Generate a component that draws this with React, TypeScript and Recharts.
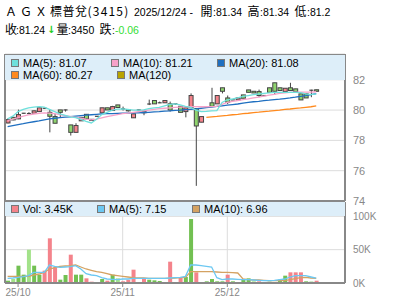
import React from "react";
import {
  ComposedChart,
  Bar,
  Line,
  XAxis,
  YAxis,
  CartesianGrid,
  Cell,
} from "recharts";

// trading days, 2025/09/29 .. 2025/12/24
const dates = [
  "09/29", "09/30",
  "10/01", "10/02", "10/03", "10/07", "10/08", "10/09", "10/13", "10/14", "10/15", "10/16",
  "10/17", "10/20", "10/21", "10/22", "10/23", "10/27", "10/28", "10/29", "10/30", "10/31",
  "11/03", "11/04", "11/05", "11/06", "11/07", "11/10", "11/11", "11/12", "11/13", "11/14",
  "11/17", "11/18", "11/19", "11/20", "11/21", "11/24", "11/25", "11/26", "11/27", "11/28",
  "12/01", "12/02", "12/03", "12/04", "12/05", "12/08", "12/09", "12/10", "12/11", "12/12",
  "12/15", "12/16", "12/17", "12/18", "12/19", "12/22", "12/23", "12/24",
];
const tickDates = ["10/01", "11/03", "12/01"];
const tickLabels = ["25/10", "25/11", "25/12"];
const priceTicks = [74, 76, 78, 80, 82];
const volTicks = [0, 50, 100];

const opens = [
  79.15, 79.52, 79.42, 79.79, 79.77, 79.79, 79.9, 80.12, 79.85, 79.57,
  80.01, 80.01, 79.02, 78.53, 79.29, 79.72, 79.39, 79.59, 79.82, 80.15,
  79.97, 80.34, 80.08, 80.03, 79.49, 80.01, 79.92, 80.4, 80.63, 80.48,
  80.48, 80.41, 80.41, 80.25, 79.9, 80.15, 80.1, 79.2, 80.19, 80.48,
  80.41, 81.47, 80.8, 80.67, 80.67, 81.0, 81.33, 81.24, 81.22, 80.96,
  81.47, 81.8, 81.47, 81.22, 81.47, 81.4, 81.07, 81.07, 81.31, 81.34,
];
const highs = [
  79.46, 79.55, 80.03, 79.81, 79.86, 79.97, 80.17, 80.14, 80.03, 79.75,
  80.01, 80.03, 79.02, 79.13, 79.52, 79.72, 79.4, 79.61, 80.15, 80.15,
  80.28, 80.34, 80.23, 80.03, 79.75, 80.03, 79.92, 80.69, 80.63, 80.56,
  80.63, 80.56, 80.41, 80.25, 80.15, 81.1, 80.12, 79.57, 80.21, 81.47,
  80.96, 81.47, 80.96, 80.69, 80.8, 81.0, 81.33, 81.24, 81.35, 80.98,
  81.47, 81.8, 81.47, 81.44, 81.8, 81.4, 81.07, 81.07, 81.34, 81.34,
];
const lows = [
  79.12, 79.33, 79.4, 79.77, 79.75, 79.79, 79.9, 80.1, 78.53, 79.13,
  79.52, 79.9, 78.32, 78.53, 79.29, 79.42, 79.31, 79.57, 79.82, 80.01,
  79.97, 80.17, 79.97, 79.9, 79.49, 79.99, 79.66, 80.33, 80.41, 80.46,
  80.48, 79.9, 80.34, 79.85, 79.52, 80.15, 75.0, 79.2, 80.17, 80.2,
  80.41, 81.1, 80.4, 80.65, 80.67, 80.78, 81.17, 81.13, 80.85, 80.94,
  81.17, 81.0, 81.29, 81.22, 81.29, 81.22, 80.67, 80.8, 80.85, 81.2,
];
const closes = [
  79.37, 79.35, 79.7, 79.79, 79.77, 79.95, 80.15, 80.12, 79.59, 79.13,
  79.85, 80.01, 78.53, 78.98, 79.52, 79.42, 79.31, 79.59, 80.15, 80.01,
  80.23, 80.17, 80.08, 79.95, 79.75, 80.01, 79.82, 80.4, 80.41, 80.48,
  80.63, 80.0, 80.34, 79.85, 80.15, 80.96, 78.95, 79.57, 80.19, 80.25,
  80.96, 81.24, 80.52, 80.67, 80.8, 80.78, 81.17, 81.13, 80.96, 80.96,
  81.17, 81.24, 81.29, 81.44, 81.29, 81.22, 80.67, 80.8, 81.31, 81.24,
];

const ma5 = [
  79.42, 79.6, 79.9, 80.05, 80.15, 80.2, 80.23, 80.2, 80.05, 79.9,
  79.75, 79.65, 79.55, 79.5, 79.38, 79.25, 79.15, 79.4, 79.7, 79.85,
  80.0, 80.06, 80.08, 80.05, 80.0, 80.0, 80.01, 80.1, 80.15, 80.18,
  80.28, 80.38, 80.41, 80.35, 80.25, 80.18, 80.0, 79.9, 79.92, 79.95,
  79.97, 80.5, 80.68, 80.73, 80.8, 80.9, 80.96, 81.02, 81.06, 81.1,
  81.14, 81.17, 81.17, 81.17, 81.17, 81.17, 81.15, 81.07, 81.02, 81.07,
];
const ma10 = [
  79.31, 79.4, 79.5, 79.6, 79.68, 79.74, 79.78, 79.82, 79.8, 79.76,
  79.7, 79.64, 79.58, 79.52, 79.46, 79.4, 79.35, 79.4, 79.48, 79.56,
  79.64, 79.7, 79.76, 79.8, 79.85, 79.9, 79.95, 80.0, 80.05, 80.09,
  80.12, 80.15, 80.18, 80.2, 80.22, 80.23, 80.23, 80.22, 80.22, 80.23,
  80.24, 80.38, 80.51, 80.57, 80.63, 80.69, 80.74, 80.8, 80.86, 80.92,
  80.98, 81.04, 81.1, 81.14, 81.17, 81.18, 81.18, 81.18, 81.19, 81.21,
];
const ma20 = [
  78.91, 78.98, 79.04, 79.1, 79.17, 79.23, 79.29, 79.36, 79.42, 79.46,
  79.5, 79.53, 79.56, 79.6, 79.63, 79.66, 79.69, 79.72, 79.75, 79.76,
  79.77, 79.78, 79.79, 79.8, 79.81, 79.82, 79.84, 79.85, 79.88, 79.9,
  79.93, 79.95, 79.98, 80.0, 80.03, 80.05, 80.08, 80.12, 80.16, 80.2,
  80.24, 80.28, 80.32, 80.36, 80.4, 80.46, 80.51, 80.55, 80.58, 80.62,
  80.65, 80.69, 80.72, 80.76, 80.8, 80.85, 80.91, 80.96, 81.02, 81.08,
];
const ma60 = [
  null, null, null, null, null, null, null, null, null, null,
  null, null, null, null, null, null, null, null, null, null,
  null, null, null, null, null, null, null, null, null, null,
  null, null, null, null, null, null, null, null, 79.52, 79.55,
  79.58, 79.62, 79.65, 79.69, 79.72, 79.76, 79.79, 79.83, 79.86, 79.9,
  79.93, 79.97, 80.0, 80.04, 80.07, 80.11, 80.14, 80.18, 80.22, 80.27,
];

// volume in thousands; u = up, d = down, n = unchanged
const volumes = [
  3.5, 6, 26, 12.5, 50, 26, 12.5, 18.5, 67, 23.5,
  5, 12, 42.5, 12.5, 12.5, 7, 2, 1, 6, 3.5,
  12.5, 7, 2.5, 5, 20, 1.5, 7.5, 5, 4, 3,
  1.5, 32, 1.5, 7.5, 9, 96, 16, 1.5, 2.5, 6,
  2.5, 2.5, 12.5, 2.5, 1.5, 6, 7, 2.5, 2.5, 1,
  2, 1.5, 5, 11, 16, 16, 16, 2.5, 2, 3.45,
];
const volDir = [
  "d", "n", "d", "d", "n", "d", "d", "u", "u", "u",
  "d", "d", "u", "d", "d", "u", "u", "d", "d", "u",
  "d", "n", "u", "u", "u", "d", "u", "d", "d", "d",
  "d", "u", "d", "u", "d", "d", "u", "d", "d", "d",
  "d", "d", "u", "d", "d", "d", "d", "n", "u", "d",
  "d", "d", "d", "d", "u", "u", "u", "d", "d", "u",
];
const volMa5 = [
  7, 7.5, 8.4, 9.5, 11, 16, 16, 16, 27, 25,
  23.5, 24, 24.5, 26, 21, 14, 12, 11, 8, 6,
  5.5, 5, 6, 6, 7, 7, 7, 7, 7, 7,
  7, 7.5, 8, 8.5, 10, 27, 27, 26, 25, 24,
  8, 5, 6, 6, 5.5, 5, 5, 4.5, 4, 3.5,
  3.5, 4, 5, 6, 9, 11, 11, 11, 9, 7.15,
];
const volMa10 = [
  10, 10, 10, 10, 10, 12, 13.5, 16, 21, 23,
  25, 25.5, 26, 27, 24, 21, 19, 17, 16, 14,
  12, 11, 10, 9, 8, 7.5, 7.5, 7, 7, 7,
  7, 7, 7.5, 8, 8.5, 17, 17, 17, 17, 17,
  16.5, 16, 16, 15.5, 15, 6, 5, 4.5, 4.5, 4,
  3.5, 3.5, 3.5, 3.5, 5, 6.5, 8, 8.4, 7.5, 6.96,
];

const RED = "#f4838b";
const GREEN = "#72c052";
const LIGHT_GREEN = "#a3e28a";
const C_MA5 = "#6ee0dc";
const C_MA10 = "#f7a1c8";
const C_MA20 = "#1f6fc0";
const C_MA60 = "#ff8a1e";
const C_MA120 = "#b8a400";
const C_VMA5 = "#6cc8f2";
const C_VMA10 = "#d4a262";
const AXIS = "#888";
const GRID = "#dcdcdc";
const FONT = "'Liberation Sans', Arial, sans-serif";
const CJK = "'Noto Sans CJK TC', sans-serif";

const data: any[] = dates.map((d, i) => ({
  d,
  open: opens[i],
  high: highs[i],
  low: lows[i],
  close: closes[i],
  range: [lows[i], highs[i]],
  ma5: ma5[i],
  ma10: ma10[i],
  ma20: ma20[i],
  ma60: ma60[i],
  vol: volumes[i],
  dir: volDir[i],
  vma5: volMa5[i],
  vma10: volMa10[i],
}));
// empty slots on the right side of the chart
for (let k = 1; k <= 5; k++) data.push({ d: `pad${k}` });

const Candle = (props: any) => {
  const { x, y, width, height, payload } = props;
  if (!payload || payload.open == null) return null;
  const { open, close, high, low } = payload;
  const ratio = high > low ? height / (high - low) : 0;
  const yOf = (v: number) => y + (high - v) * ratio;
  const cx = x + width / 2;
  const top = yOf(Math.max(open, close));
  const bot = yOf(Math.min(open, close));
  const fill = close > open ? RED : close < open ? "#8fd46e" : "#555";
  return (
    <g>
      <line x1={cx} x2={cx} y1={y} y2={y + height} stroke="#444" strokeWidth={1} />
      {bot - top < 1.2 ? (
        <line x1={x} x2={x + width} y1={top} y2={top} stroke="#444" strokeWidth={1.2} />
      ) : (
        <rect x={x} y={top} width={width} height={bot - top} fill={fill} stroke="#444" strokeWidth={1} />
      )}
    </g>
  );
};

const LegendItem = ({ color, label, left, top }: any) => (
  <div
    style={{
      position: "absolute",
      left,
      top,
      display: "flex",
      alignItems: "center",
      fontSize: 11,
      fontFamily: FONT,
      lineHeight: "12px",
      color: "#000",
      whiteSpace: "nowrap",
    }}
  >
    <span
      style={{
        display: "inline-block",
        width: 6,
        height: 6,
        background: color,
        border: "1px solid #777",
        marginRight: 4,
      }}
    />
    {label}
  </div>
);

// header piece placed at x; top is the top of a 12px CJK line box
const H = ({ x, top, cjk, color, bold, children }: any) => (
  <div
    style={{
      position: "absolute",
      left: x,
      top: cjk ? top : top + 4.4,
      fontFamily: cjk ? CJK : FONT,
      fontSize: cjk ? 12 : 10.5,
      fontWeight: bold ? "bold" : "normal",
      color: color ?? "#000",
      whiteSpace: "pre",
    }}
  >
    {children}
  </div>
);

const last = (a: any[]) => a[a.length - 1];

export default function App() {
  const tickFmt = (v: string) => tickLabels[tickDates.indexOf(v)] ?? "";
  const r1 = 2;
  const r2 = 19.5;
  return (
    <div style={{ position: "absolute", left: 0, top: 0, width: 400, height: 301, background: "#fff" }}>
      {/* volume panel */}
      <div style={{ position: "absolute", left: 0, top: 0 }}>
        <ComposedChart width={400} height={301} data={data} margin={{ top: 202, right: 0, bottom: 0, left: 5 }}>
          <CartesianGrid stroke={GRID} strokeWidth={1} />
          <XAxis
            dataKey="d"
            type="category"
            ticks={tickDates}
            tickFormatter={tickFmt}
            height={18}
            axisLine={{ stroke: AXIS, strokeWidth: 2 }}
            tickLine={{ stroke: AXIS }}
            tickSize={4}
            tick={{ fill: AXIS, fontSize: 10, fontFamily: FONT }}
          />
          <YAxis
            orientation="right"
            width={55}
            domain={[0, 121.5]}
            ticks={volTicks}
            allowDataOverflow
            tickFormatter={(v: number) => `${v}K`}
            axisLine={{ stroke: AXIS, strokeWidth: 2 }}
            tickLine={false}
            tick={{ fill: AXIS, fontSize: 10, fontFamily: FONT }}
          />
          <Bar dataKey="vol" barSize={4} isAnimationActive={false}>
            {data.map((r, i) => (
              <Cell key={i} fill={r.dir === "u" ? RED : r.dir === "n" ? LIGHT_GREEN : GREEN} />
            ))}
          </Bar>
          <Line dataKey="vma10" stroke={C_VMA10} strokeWidth={1.3} dot={false} isAnimationActive={false} />
          <Line dataKey="vma5" stroke={C_VMA5} strokeWidth={1.3} dot={false} isAnimationActive={false} />
        </ComposedChart>
      </div>

      {/* price panel */}
      <div style={{ position: "absolute", left: 0, top: 0 }}>
        <ComposedChart width={400} height={301} data={data} margin={{ top: 54, right: 0, bottom: 0, left: 5 }}>
          <CartesianGrid stroke={GRID} strokeWidth={1} />
          <XAxis
            dataKey="d"
            type="category"
            ticks={tickDates}
            height={100}
            tick={false}
            tickLine={false}
            axisLine={{ stroke: AXIS, strokeWidth: 2 }}
          />
          <YAxis
            orientation="right"
            width={55}
            domain={[74, 83.7]}
            ticks={priceTicks}
            allowDataOverflow
            axisLine={{ stroke: AXIS, strokeWidth: 2 }}
            tickLine={false}
            tick={{ fill: AXIS, fontSize: 11, fontFamily: FONT }}
          />
          <Line dataKey="ma60" stroke={C_MA60} strokeWidth={1.3} dot={false} isAnimationActive={false} />
          <Line dataKey="ma20" stroke={C_MA20} strokeWidth={1.3} dot={false} isAnimationActive={false} />
          <Line dataKey="ma10" stroke={C_MA10} strokeWidth={1.3} dot={false} isAnimationActive={false} />
          <Line dataKey="ma5" stroke={C_MA5} strokeWidth={1.3} dot={false} isAnimationActive={false} />
          <Bar dataKey="range" barSize={4} shape={<Candle />} isAnimationActive={false} />
        </ComposedChart>
      </div>

      {/* left frame */}
      <div style={{ position: "absolute", left: 4, top: 54, width: 2, height: 229, background: AXIS }} />

      {/* price legend */}
      <div
        style={{
          position: "absolute",
          left: 5,
          top: 54,
          width: 340,
          height: 26,
          background: "#ddeef9",
          borderTop: `1px solid ${AXIS}`,
          boxSizing: "border-box",
        }}
      />
      <LegendItem color={C_MA5} label={`MA(5): ${last(ma5).toFixed(2)}`} left={11} top={57} />
      <LegendItem color={C_MA10} label={`MA(10): ${last(ma10).toFixed(2)}`} left={111} top={57} />
      <LegendItem color={C_MA20} label={`MA(20): ${last(ma20).toFixed(2)}`} left={217} top={57} />
      <LegendItem color={C_MA60} label={`MA(60): ${last(ma60).toFixed(2)}`} left={11} top={69} />
      <LegendItem color={C_MA120} label="MA(120)" left={117} top={69} />

      {/* volume legend */}
      <div
        style={{
          position: "absolute",
          left: 5,
          top: 202,
          width: 340,
          height: 14,
          background: "#ddeef9",
        }}
      />
      <LegendItem color={RED} label={`Vol: ${last(volumes).toFixed(2)}K`} left={11} top={203} />
      <LegendItem color={C_VMA5} label={`MA(5): ${last(volMa5).toFixed(2)}`} left={97} top={203} />
      <LegendItem color={C_VMA10} label={`MA(10): ${last(volMa10).toFixed(2)}`} left={192} top={203} />

      {/* header, line 1 */}
      <div style={{ position: "absolute", left: 5, top: r1, display: "flex", whiteSpace: "pre" }}>
        <span style={{ fontFamily: CJK, fontSize: 12, letterSpacing: 3 }}>{"ＡＧＸ"}</span>
        <span style={{ fontFamily: CJK, fontSize: 12, letterSpacing: 0.5 }}>{"標普兌"}</span>
        <span style={{ fontFamily: CJK, fontSize: 12, letterSpacing: 1.2 }}>{"(3415)"}</span>
      </div>
      <H x={134} top={r1}>{"2025/12/24 -"}</H>
      <H x={200.5} top={r1} cjk>開</H>
      <H x={213} top={r1}>{":81.34"}</H>
      <H x={247.5} top={r1} cjk>高</H>
      <H x={260} top={r1}>{":81.34"}</H>
      <H x={294.5} top={r1} cjk>低</H>
      <H x={307} top={r1}>{":81.2"}</H>

      {/* header, line 2 */}
      <H x={5} top={r2} cjk>收</H>
      <H x={16} top={r2}>{":81.24"}</H>
      <div
        style={{
          position: "absolute",
          left: 47,
          top: r2 + 4,
          fontFamily: "'DejaVu Sans', sans-serif",
          fontSize: 10,
          fontWeight: "bold",
          color: "#22cc22",
        }}
      >
        ↓
      </div>
      <H x={56.5} top={r2} cjk>量</H>
      <H x={68} top={r2}>{":3450"}</H>
      <H x={99.5} top={r2} cjk>跌</H>
      <H x={112} top={r2}>:</H>
      <H x={115} top={r2} color="#33dd33">-0.06</H>
    </div>
  );
}
